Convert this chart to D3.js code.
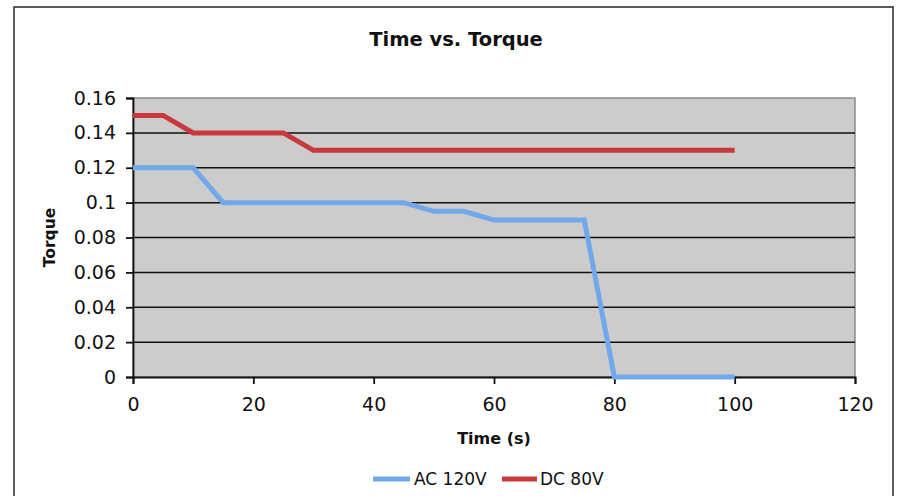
<!DOCTYPE html>
<html><head><meta charset="utf-8">
<script src="https://cdn.jsdelivr.net/npm/d3@7"></script>
<style>body{margin:0;background:#fff}svg{display:block}text{font-family:"DejaVu Sans",Verdana,sans-serif;fill:#111}</style>
</head><body><svg id="c" width="897" height="496"></svg>
<script>
const time = [0,5,10,15,20,25,30,35,40,45,50,55,60,65,70,75,80,85,90,95,100];
const acTorque = [0.12,0.12,0.12,0.1,0.1,0.1,0.1,0.1,0.1,0.1,0.095,0.095,0.09,0.09,0.09,0.09,0,0,0,0,0];
const dcTorque = [0.15,0.15,0.14,0.14,0.14,0.14,0.13,0.13,0.13,0.13,0.13,0.13,0.13,0.13,0.13,0.13,0.13,0.13,0.13,0.13,0.13];
const seriesNames = ["AC 120V","DC 80V"];
const seriesColors = ["#70a8ea","#c8383c"];
const xTicks = [0,20,40,60,80,100,120];
const yTicks = [0,0.02,0.04,0.06,0.08,0.1,0.12,0.14,0.16];

const svg = d3.select("#c");
// outer frame
svg.append("rect").attr("x",14).attr("y",7).attr("width",879).attr("height",500)
  .attr("fill","#fff").attr("stroke","#333").attr("stroke-width",1.6);

const L=133,R=855,T=98,B=377;
const x = d3.scaleLinear().domain([0,120]).range([L,R]);
const y = d3.scaleLinear().domain([0,0.16]).range([B,T]);

svg.append("rect").attr("x",L).attr("y",T).attr("width",R-L).attr("height",B-T)
  .attr("fill","#cccccc").attr("stroke","#8a8a8a").attr("stroke-width",1.5);

// gridlines
svg.append("g").selectAll("line").data(yTicks.filter(v=>v>0 && v<0.16)).join("line")
  .attr("x1",L).attr("x2",R).attr("y1",d=>y(d)).attr("y2",d=>y(d))
  .attr("stroke","#111").attr("stroke-width",1.5);

// axes
const ya = svg.append("g").attr("transform",`translate(${L},0)`)
  .call(d3.axisLeft(y).tickValues(yTicks).tickFormat(d=>d3.format("")(+d.toFixed(2))).tickSize(7).tickPadding(10));
const xa = svg.append("g").attr("transform",`translate(0,${B})`)
  .call(d3.axisBottom(x).tickValues(xTicks).tickSize(7).tickPadding(14));
[ya,xa].forEach(a=>{
  a.select(".domain").attr("stroke","#111").attr("stroke-width",1.8);
  a.selectAll(".tick line").attr("stroke","#111").attr("stroke-width",1.8);
  a.selectAll(".tick text").attr("font-size",19).attr("fill","#111").style("font-family","'DejaVu Sans',sans-serif");
});

// lines
const line = d3.line().x((d,i)=>x(time[i])).y(d=>y(d));
[acTorque,dcTorque].forEach((s,k)=>{
  svg.append("path").datum(s).attr("d",line).attr("fill","none")
    .attr("stroke",seriesColors[k]).attr("stroke-width",5).attr("stroke-linejoin","miter");
});

// title & labels
svg.append("text").attr("x",456).attr("y",46).attr("text-anchor","middle")
  .attr("font-size",19.5).attr("font-weight","bold").text("Time vs. Torque");
svg.append("text").attr("x",(L+R)/2).attr("y",444).attr("text-anchor","middle")
  .attr("font-size",16).attr("font-weight","bold").text("Time (s)");
svg.append("text").attr("transform",`translate(55,${(T+B)/2}) rotate(-90)`).attr("text-anchor","middle")
  .attr("font-size",15.5).attr("font-weight","bold").text("Torque");

// legend
const leg = [{x1:373,x2:410,tx:414},{x1:502,x2:537,tx:540}];
leg.forEach((p,k)=>{
  svg.append("line").attr("x1",p.x1).attr("x2",p.x2).attr("y1",479).attr("y2",479)
    .attr("stroke",seriesColors[k]).attr("stroke-width",5);
  svg.append("text").attr("x",p.tx).attr("y",485).attr("font-size",17).text(seriesNames[k]);
});
</script></body></html>
